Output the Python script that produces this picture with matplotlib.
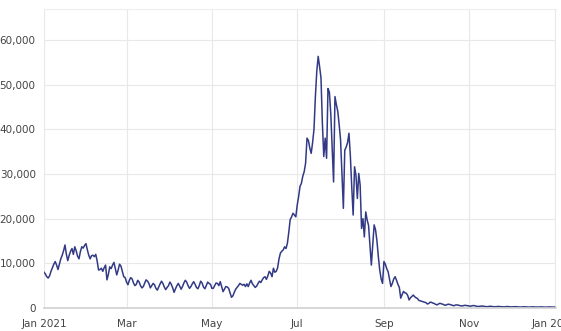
import numpy as np
import pandas as pd
import matplotlib
matplotlib.use('Agg')
import matplotlib.pyplot as plt
import matplotlib.dates as mdates
from matplotlib.ticker import FuncFormatter

# daily values
jan = [8000, 7600, 7000, 6700, 7200, 8200, 9000, 9800, 10400, 9600, 8600, 9800, 11000, 11800, 12800,
       14100, 12000, 10600, 11800, 12700, 13300, 12000, 13700, 12800, 11600, 11000, 12600, 13700,
       13400, 14000, 14400]
feb = [13000, 11800, 11000, 11700, 11800, 11500, 12000, 10500, 8500, 8600, 8900, 8200, 9000, 9600,
       6300, 7500, 9200, 8800, 9600, 10200, 8800, 7400, 8500, 9800, 9400, 8200, 7000, 6800]
mar = [5800, 5200, 6200, 6800, 6500, 5600, 5000, 5300, 6200, 5800, 5000, 4500, 4800, 5600, 6300,
       6000, 5500, 4500, 5000, 5500, 5200, 4400, 4000, 4700, 5400, 6000, 5500, 4700, 4100, 4600, 5000]
apr = [5800, 5300, 4500, 3500, 4300, 5000, 5500, 4900, 4200, 4800, 5600, 6200, 5800, 5000, 4400,
       4800, 5400, 5900, 5300, 4600, 4300, 5000, 6000, 5600, 4700, 4300, 5000, 5800, 5500, 5300]
may = [4400, 4400, 5000, 5600, 5500, 5000, 5900, 4800, 3650, 4200, 4800, 4700, 4400, 3400, 2400,
       2700, 3500, 4200, 4600, 5000, 5500, 5300, 5100, 5300, 4800, 5400, 4800, 5600, 6200, 5400, 5000]
jun = [4600, 4900, 5500, 6000, 5700, 6300, 6800, 7000, 6400, 7200, 8200, 7800, 7000, 8900, 8000,
       8200, 9000, 11000, 12300, 12700, 13000, 13700, 13300, 14500, 17000, 19800, 20400, 21200,
       20800, 20400]
jul = [23000, 24900, 27200, 27900, 29500, 30500, 32400, 38000, 37500, 35800, 34600, 37000, 40000,
       47300, 53000, 56300, 54000, 51500, 41300, 33900, 38000, 33500, 49100, 48300, 43500, 36000,
       28200, 47300, 45500, 44000, 41000]
aug = [37600, 30000, 22300, 35300, 36000, 37000, 39100, 34000, 27000, 20800, 31600, 29700, 24500,
       30100, 27500, 17800, 20000, 15900, 21500, 19700, 18500, 14000, 9600, 14000, 18600, 17500,
       15000, 11500, 8500, 6500, 5500]
sep = [10400, 9800, 8800, 8100, 6500, 4800, 5500, 6500, 7000, 6200, 5300, 4600, 2200, 3000, 3700,
       3400, 3300, 2800, 1800, 2300, 2600, 2900, 2500, 2300, 2100, 1700, 1600, 1500, 1400, 1300]
oct_ = [1200, 900, 1000, 1300, 1250, 1100, 1000, 800, 700, 900, 1050, 950, 850, 700, 600, 750, 850,
        800, 700, 600, 500, 650, 700, 650, 550, 500, 450, 550, 600, 550, 500]
nov = [450, 400, 500, 550, 500, 400, 350, 350, 400, 450, 400, 350, 300, 300, 350, 400, 350, 300,
       280, 280, 320, 350, 300, 280, 250, 250, 300, 330, 300, 260]
dec = [240, 250, 280, 300, 270, 240, 220, 220, 250, 280, 260, 230, 210, 200, 230, 260, 240, 220,
       200, 200, 230, 250, 230, 210, 190, 190, 220, 240, 220, 200, 200, 210]

values = jan + feb + mar + apr + may + jun + jul + aug + sep + oct_ + nov + dec
dates = pd.date_range('2021-01-01', periods=len(values), freq='D')

y_ticks = [0, 10000, 20000, 30000, 40000, 50000, 60000]
x_ticks = pd.to_datetime(['2021-01-01', '2021-03-01', '2021-05-01', '2021-07-01',
                          '2021-09-01', '2021-11-01', '2022-01-01'])
x_labels = ['Jan 2021', 'Mar', 'May', 'Jul', 'Sep', 'Nov', 'Jan 2022']

plt.rcParams['font.family'] = ['Liberation Sans Narrow', 'DejaVu Sans']

fig = plt.figure(figsize=(5.61, 3.31), dpi=100)
ax = fig.add_axes([44 / 561, 23 / 331, 512 / 561, 299 / 331])

ax.plot(dates, values, color='#323a86', linewidth=1.1)

ax.set_xlim(pd.Timestamp('2021-01-01'), pd.Timestamp('2022-01-02'))
ax.set_ylim(0, 66900)
ax.set_xticks(x_ticks)
ax.set_xticklabels(x_labels)
ax.set_yticks(y_ticks)
ax.yaxis.set_major_formatter(FuncFormatter(lambda v, p: f'{int(v):,}'))

ax.grid(True, color='#e8e8e8', linewidth=0.8)
ax.set_axisbelow(True)
for side in ['left', 'right']:
    ax.spines[side].set_visible(False)
ax.spines['top'].set_color('#eeeeee')
ax.spines['top'].set_linewidth(0.8)
ax.spines['bottom'].set_color('#d0d0d0')
ax.spines['bottom'].set_linewidth(1.2)
ax.tick_params(length=0, labelsize=7.5, colors='#444444')
ax.tick_params(axis='x', pad=8)
ax.tick_params(axis='y', pad=6)

fig.savefig('out.png', dpi=100)
